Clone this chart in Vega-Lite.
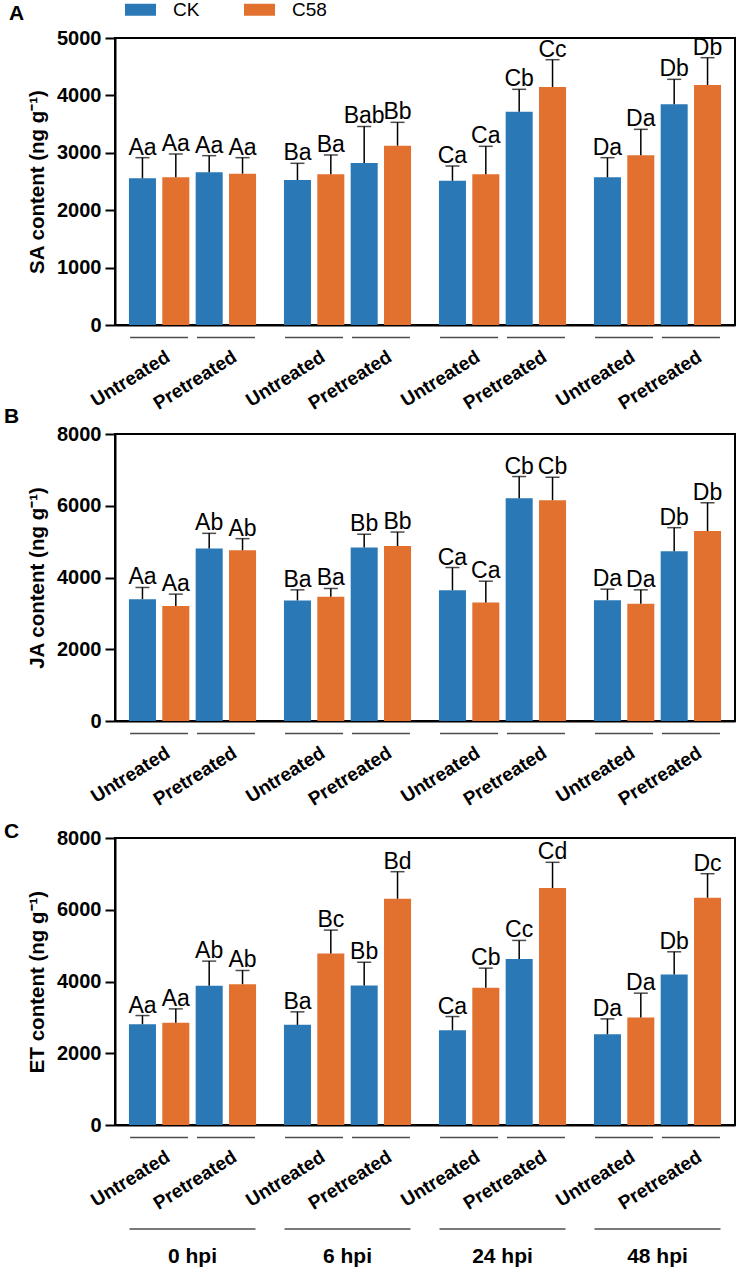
{
  "$schema": "https://vega.github.io/schema/vega-lite/v6.json",
  "padding": {"left": 3, "top": -6, "right": 5, "bottom": 0},
  "datasets": {
    "d": [
      {"h":"SA","time":"0 hpi","trt":"Untreated","strain":"CK","key":"U-CK","mean":2556,"upper":2915,"label":"Aa"},
      {"h":"SA","time":"0 hpi","trt":"Untreated","strain":"C58","key":"U-C58","mean":2573,"upper":2979,"label":"Aa"},
      {"h":"SA","time":"0 hpi","trt":"Pretreated","strain":"CK","key":"P-CK","mean":2660,"upper":2950,"label":"Aa"},
      {"h":"SA","time":"0 hpi","trt":"Pretreated","strain":"C58","key":"P-C58","mean":2636,"upper":2915,"label":"Aa"},
      {"h":"SA","time":"6 hpi","trt":"Untreated","strain":"CK","key":"U-CK","mean":2526,"upper":2817,"label":"Ba"},
      {"h":"SA","time":"6 hpi","trt":"Untreated","strain":"C58","key":"U-C58","mean":2625,"upper":2962,"label":"Ba"},
      {"h":"SA","time":"6 hpi","trt":"Pretreated","strain":"CK","key":"P-CK","mean":2822,"upper":3460,"label":"Bab"},
      {"h":"SA","time":"6 hpi","trt":"Pretreated","strain":"C58","key":"P-C58","mean":3124,"upper":3531,"label":"Bb"},
      {"h":"SA","time":"24 hpi","trt":"Untreated","strain":"CK","key":"U-CK","mean":2514,"upper":2770,"label":"Ca"},
      {"h":"SA","time":"24 hpi","trt":"Untreated","strain":"C58","key":"U-C58","mean":2625,"upper":3113,"label":"Ca"},
      {"h":"SA","time":"24 hpi","trt":"Pretreated","strain":"CK","key":"P-CK","mean":3716,"upper":4106,"label":"Cb"},
      {"h":"SA","time":"24 hpi","trt":"Pretreated","strain":"C58","key":"P-C58","mean":4146,"upper":4622,"label":"Cc"},
      {"h":"SA","time":"48 hpi","trt":"Untreated","strain":"CK","key":"U-CK","mean":2573,"upper":2915,"label":"Da"},
      {"h":"SA","time":"48 hpi","trt":"Untreated","strain":"C58","key":"U-C58","mean":2956,"upper":3409,"label":"Da"},
      {"h":"SA","time":"48 hpi","trt":"Pretreated","strain":"CK","key":"P-CK","mean":3845,"upper":4280,"label":"Db"},
      {"h":"SA","time":"48 hpi","trt":"Pretreated","strain":"C58","key":"P-C58","mean":4181,"upper":4657,"label":"Db"},

      {"h":"JA","time":"0 hpi","trt":"Untreated","strain":"CK","key":"U-CK","mean":3397,"upper":3722,"label":"Aa"},
      {"h":"JA","time":"0 hpi","trt":"Untreated","strain":"C58","key":"U-C58","mean":3203,"upper":3536,"label":"Aa"},
      {"h":"JA","time":"0 hpi","trt":"Pretreated","strain":"CK","key":"P-CK","mean":4806,"upper":5231,"label":"Ab"},
      {"h":"JA","time":"0 hpi","trt":"Pretreated","strain":"C58","key":"P-C58","mean":4758,"upper":5083,"label":"Ab"},
      {"h":"JA","time":"6 hpi","trt":"Untreated","strain":"CK","key":"U-CK","mean":3361,"upper":3656,"label":"Ba"},
      {"h":"JA","time":"6 hpi","trt":"Untreated","strain":"C58","key":"U-C58","mean":3461,"upper":3694,"label":"Ba"},
      {"h":"JA","time":"6 hpi","trt":"Pretreated","strain":"CK","key":"P-CK","mean":4833,"upper":5203,"label":"Bb"},
      {"h":"JA","time":"6 hpi","trt":"Pretreated","strain":"C58","key":"P-C58","mean":4878,"upper":5267,"label":"Bb"},
      {"h":"JA","time":"24 hpi","trt":"Untreated","strain":"CK","key":"U-CK","mean":3647,"upper":4278,"label":"Ca"},
      {"h":"JA","time":"24 hpi","trt":"Untreated","strain":"C58","key":"U-C58","mean":3306,"upper":3897,"label":"Ca"},
      {"h":"JA","time":"24 hpi","trt":"Pretreated","strain":"CK","key":"P-CK","mean":6211,"upper":6814,"label":"Cb"},
      {"h":"JA","time":"24 hpi","trt":"Pretreated","strain":"C58","key":"P-C58","mean":6156,"upper":6794,"label":"Cb"},
      {"h":"JA","time":"48 hpi","trt":"Untreated","strain":"CK","key":"U-CK","mean":3369,"upper":3675,"label":"Da"},
      {"h":"JA","time":"48 hpi","trt":"Untreated","strain":"C58","key":"U-C58","mean":3267,"upper":3656,"label":"Da"},
      {"h":"JA","time":"48 hpi","trt":"Pretreated","strain":"CK","key":"P-CK","mean":4731,"upper":5389,"label":"Db"},
      {"h":"JA","time":"48 hpi","trt":"Pretreated","strain":"C58","key":"P-C58","mean":5294,"upper":6083,"label":"Db"},

      {"h":"ET","time":"0 hpi","trt":"Untreated","strain":"CK","key":"U-CK","mean":2810,"upper":3051,"label":"Aa"},
      {"h":"ET","time":"0 hpi","trt":"Untreated","strain":"C58","key":"U-C58","mean":2847,"upper":3237,"label":"Aa"},
      {"h":"ET","time":"0 hpi","trt":"Pretreated","strain":"CK","key":"P-CK","mean":3879,"upper":4568,"label":"Ab"},
      {"h":"ET","time":"0 hpi","trt":"Pretreated","strain":"C58","key":"P-C58","mean":3926,"upper":4307,"label":"Ab"},
      {"h":"ET","time":"6 hpi","trt":"Untreated","strain":"CK","key":"U-CK","mean":2791,"upper":3154,"label":"Ba"},
      {"h":"ET","time":"6 hpi","trt":"Untreated","strain":"C58","key":"U-C58","mean":4782,"upper":5433,"label":"Bc"},
      {"h":"ET","time":"6 hpi","trt":"Pretreated","strain":"CK","key":"P-CK","mean":3889,"upper":4540,"label":"Bb"},
      {"h":"ET","time":"6 hpi","trt":"Pretreated","strain":"C58","key":"P-C58","mean":6307,"upper":7061,"label":"Bd"},
      {"h":"ET","time":"24 hpi","trt":"Untreated","strain":"CK","key":"U-CK","mean":2642,"upper":3023,"label":"Ca"},
      {"h":"ET","time":"24 hpi","trt":"Untreated","strain":"C58","key":"U-C58","mean":3824,"upper":4372,"label":"Cb"},
      {"h":"ET","time":"24 hpi","trt":"Pretreated","strain":"CK","key":"P-CK","mean":4624,"upper":5145,"label":"Cc"},
      {"h":"ET","time":"24 hpi","trt":"Pretreated","strain":"C58","key":"P-C58","mean":6605,"upper":7322,"label":"Cd"},
      {"h":"ET","time":"48 hpi","trt":"Untreated","strain":"CK","key":"U-CK","mean":2530,"upper":2958,"label":"Da"},
      {"h":"ET","time":"48 hpi","trt":"Untreated","strain":"C58","key":"U-C58","mean":2996,"upper":3675,"label":"Da"},
      {"h":"ET","time":"48 hpi","trt":"Pretreated","strain":"CK","key":"P-CK","mean":4196,"upper":4828,"label":"Db"},
      {"h":"ET","time":"48 hpi","trt":"Pretreated","strain":"C58","key":"P-C58","mean":6335,"upper":7005,"label":"Dc"}
    ]
  },
  "bounds": "flush",
  "spacing": 109,
  "vconcat": [
    {
      "width": 620, "height": 287,
      "title": {"text": "A", "dx": -106, "dy": 0},
      "data": {"name": "d"},
      "transform": [{"filter": "datum.h === 'SA'"}],
      "resolve": {"scale": {"xOffset": "independent"}},
      "encoding": {
        "x": {"field": "time", "type": "nominal", "sort": null,
              "scale": {"domain": ["0 hpi","6 hpi","24 hpi","48 hpi"], "paddingInner": 0.18, "paddingOuter": 0.09},
              "axis": {"labels": false, "ticks": false, "title": null}}
      },
      "layer": [
        {"mark": {"type": "bar"},
         "encoding": {
           "xOffset": {"field": "key", "type": "nominal", "scale": {"type": "band", "domain": ["U-CK","U-C58","P-CK","P-C58"], "paddingInner": 0.19, "paddingOuter": 0}},
           "y": {"field": "mean", "type": "quantitative", "scale": {"domain": [0, 5000], "nice": false},
                 "axis": {"title": "SA content (ng g⁻¹)", "values": [0,1000,2000,3000,4000,5000], "format": "d"}},
           "color": {"field": "strain", "type": "nominal", "scale": {"domain": ["CK","C58"], "range": ["#2A78B5","#E2702E"]},
                     "legend": {"orient": "none", "legendX": 10, "legendY": -44, "direction": "horizontal", "title": null,
                                "symbolType": "M-1,-0.387H1V0.387H-1Z", "symbolSize": 961, "symbolStrokeWidth": 0,
                                "labelFontSize": 19, "labelOffset": 17, "columnPadding": 44, "labelColor": "black", "symbolOpacity": 1}}
         }},
        {"mark": {"type": "rule", "color": "black", "strokeWidth": 1.5},
         "encoding": {
           "xOffset": {"field": "key", "type": "nominal", "scale": {"type": "band", "domain": ["U-CK","U-C58","P-CK","P-C58"], "paddingInner": 0.19, "paddingOuter": 0}},
           "y": {"field": "mean", "type": "quantitative"}, "y2": {"field": "upper"}
         }},
        {"mark": {"type": "tick", "orient": "horizontal", "color": "black", "size": 14, "thickness": 1.5},
         "encoding": {
           "xOffset": {"field": "key", "type": "nominal", "scale": {"type": "band", "domain": ["U-CK","U-C58","P-CK","P-C58"], "paddingInner": 0.19, "paddingOuter": 0}},
           "y": {"field": "upper", "type": "quantitative"}
         }},
        {"mark": {"type": "text", "baseline": "alphabetic", "dy": -3, "fontSize": 23, "color": "black"},
         "encoding": {
           "xOffset": {"field": "key", "type": "nominal", "scale": {"type": "band", "domain": ["U-CK","U-C58","P-CK","P-C58"], "paddingInner": 0.19, "paddingOuter": 0}},
           "y": {"field": "upper", "type": "quantitative"},
           "text": {"field": "label"}
         }},
        {"transform": [{"filter": "datum.strain === 'CK'"}],
         "mark": {"type": "tick", "orient": "horizontal", "color": "black", "size": 58, "thickness": 1.5},
         "encoding": {
           "xOffset": {"field": "trt", "type": "nominal", "scale": {"type": "band", "domain": ["Untreated","Pretreated"], "paddingInner": 0.1, "paddingOuter": 0}},
           "y": {"datum": -218}
         }},
        {"transform": [{"filter": "datum.strain === 'CK'"}],
         "mark": {"type": "text", "angle": 328, "align": "right", "baseline": "top", "dx": 5, "fontSize": 19, "fontWeight": "bold", "color": "black"},
         "encoding": {
           "xOffset": {"field": "trt", "type": "nominal", "scale": {"type": "band", "domain": ["Untreated","Pretreated"], "paddingInner": 0.1, "paddingOuter": 0}},
           "y": {"datum": -440},
           "text": {"field": "trt"}
         }}
      ]
    },
    {
      "bounds": "flush",
      "spacing": 117,
      "vconcat": [
        {
          "width": 620, "height": 287,
          "title": {"text": "B", "dx": -111, "dy": 7},
          "data": {"name": "d"},
          "transform": [{"filter": "datum.h === 'JA'"}],
          "resolve": {"scale": {"xOffset": "independent"}},
          "encoding": {
            "x": {"field": "time", "type": "nominal", "sort": null,
                  "scale": {"domain": ["0 hpi","6 hpi","24 hpi","48 hpi"], "paddingInner": 0.18, "paddingOuter": 0.09},
                  "axis": {"labels": false, "ticks": false, "title": null}}
          },
          "layer": [
            {"mark": {"type": "bar"},
             "encoding": {
               "xOffset": {"field": "key", "type": "nominal", "scale": {"type": "band", "domain": ["U-CK","U-C58","P-CK","P-C58"], "paddingInner": 0.19, "paddingOuter": 0}},
               "y": {"field": "mean", "type": "quantitative", "scale": {"domain": [0, 8000], "nice": false},
                     "axis": {"title": "JA content (ng g⁻¹)", "values": [0,2000,4000,6000,8000], "format": "d"}},
               "color": {"field": "strain", "type": "nominal", "scale": {"domain": ["CK","C58"], "range": ["#2A78B5","#E2702E"]},
                         "legend": {"orient": "none", "legendX": 10, "legendY": -44, "direction": "horizontal", "title": null,
                                    "symbolType": "M-1,-0.387H1V0.387H-1Z", "symbolSize": 961, "symbolStrokeWidth": 0,
                                    "labelFontSize": 19, "labelOffset": 17, "columnPadding": 44, "labelColor": "black", "symbolOpacity": 1}}
             }},
            {"mark": {"type": "rule", "color": "black", "strokeWidth": 1.5},
             "encoding": {
               "xOffset": {"field": "key", "type": "nominal", "scale": {"type": "band", "domain": ["U-CK","U-C58","P-CK","P-C58"], "paddingInner": 0.19, "paddingOuter": 0}},
               "y": {"field": "mean", "type": "quantitative"}, "y2": {"field": "upper"}
             }},
            {"mark": {"type": "tick", "orient": "horizontal", "color": "black", "size": 14, "thickness": 1.5},
             "encoding": {
               "xOffset": {"field": "key", "type": "nominal", "scale": {"type": "band", "domain": ["U-CK","U-C58","P-CK","P-C58"], "paddingInner": 0.19, "paddingOuter": 0}},
               "y": {"field": "upper", "type": "quantitative"}
             }},
            {"mark": {"type": "text", "baseline": "alphabetic", "dy": -3, "fontSize": 23, "color": "black"},
             "encoding": {
               "xOffset": {"field": "key", "type": "nominal", "scale": {"type": "band", "domain": ["U-CK","U-C58","P-CK","P-C58"], "paddingInner": 0.19, "paddingOuter": 0}},
               "y": {"field": "upper", "type": "quantitative"},
               "text": {"field": "label"}
             }},
            {"transform": [{"filter": "datum.strain === 'CK'"}],
             "mark": {"type": "tick", "orient": "horizontal", "color": "black", "size": 58, "thickness": 1.5},
             "encoding": {
               "xOffset": {"field": "trt", "type": "nominal", "scale": {"type": "band", "domain": ["Untreated","Pretreated"], "paddingInner": 0.1, "paddingOuter": 0}},
               "y": {"datum": -348}
             }},
            {"transform": [{"filter": "datum.strain === 'CK'"}],
             "mark": {"type": "text", "angle": 328, "align": "right", "baseline": "top", "dx": 5, "fontSize": 19, "fontWeight": "bold", "color": "black"},
             "encoding": {
               "xOffset": {"field": "trt", "type": "nominal", "scale": {"type": "band", "domain": ["Untreated","Pretreated"], "paddingInner": 0.1, "paddingOuter": 0}},
               "y": {"datum": -705},
               "text": {"field": "trt"}
             }}
          ]
        },
        {
          "width": 620, "height": 287,
          "title": {"text": "C", "dx": -111, "dy": 18},
          "data": {"name": "d"},
          "transform": [{"filter": "datum.h === 'ET'"}],
          "resolve": {"scale": {"xOffset": "independent"}},
          "encoding": {
            "x": {"field": "time", "type": "nominal", "sort": null,
                  "scale": {"domain": ["0 hpi","6 hpi","24 hpi","48 hpi"], "paddingInner": 0.18, "paddingOuter": 0.09},
                  "axis": {"labels": true, "ticks": false, "tickSize": 0, "title": null, "labelAngle": 0, "labelFontSize": 21,
                           "labelFontWeight": "bold", "labelPadding": 120, "labelBaseline": "top", "labelColor": "black"}}
          },
          "layer": [
            {"mark": {"type": "bar"},
             "encoding": {
               "xOffset": {"field": "key", "type": "nominal", "scale": {"type": "band", "domain": ["U-CK","U-C58","P-CK","P-C58"], "paddingInner": 0.19, "paddingOuter": 0}},
               "y": {"field": "mean", "type": "quantitative", "scale": {"domain": [0, 8000], "nice": false},
                     "axis": {"title": "ET content (ng g⁻¹)", "values": [0,2000,4000,6000,8000], "format": "d"}},
               "color": {"field": "strain", "type": "nominal", "scale": {"domain": ["CK","C58"], "range": ["#2A78B5","#E2702E"]},
                         "legend": {"orient": "none", "legendX": 10, "legendY": -44, "direction": "horizontal", "title": null,
                                    "symbolType": "M-1,-0.387H1V0.387H-1Z", "symbolSize": 961, "symbolStrokeWidth": 0,
                                    "labelFontSize": 19, "labelOffset": 17, "columnPadding": 44, "labelColor": "black", "symbolOpacity": 1}}
             }},
            {"mark": {"type": "rule", "color": "black", "strokeWidth": 1.5},
             "encoding": {
               "xOffset": {"field": "key", "type": "nominal", "scale": {"type": "band", "domain": ["U-CK","U-C58","P-CK","P-C58"], "paddingInner": 0.19, "paddingOuter": 0}},
               "y": {"field": "mean", "type": "quantitative"}, "y2": {"field": "upper"}
             }},
            {"mark": {"type": "tick", "orient": "horizontal", "color": "black", "size": 14, "thickness": 1.5},
             "encoding": {
               "xOffset": {"field": "key", "type": "nominal", "scale": {"type": "band", "domain": ["U-CK","U-C58","P-CK","P-C58"], "paddingInner": 0.19, "paddingOuter": 0}},
               "y": {"field": "upper", "type": "quantitative"}
             }},
            {"mark": {"type": "text", "baseline": "alphabetic", "dy": -3, "fontSize": 23, "color": "black"},
             "encoding": {
               "xOffset": {"field": "key", "type": "nominal", "scale": {"type": "band", "domain": ["U-CK","U-C58","P-CK","P-C58"], "paddingInner": 0.19, "paddingOuter": 0}},
               "y": {"field": "upper", "type": "quantitative"},
               "text": {"field": "label"}
             }},
            {"transform": [{"filter": "datum.strain === 'CK'"}],
             "mark": {"type": "tick", "orient": "horizontal", "color": "black", "size": 58, "thickness": 1.5},
             "encoding": {
               "xOffset": {"field": "trt", "type": "nominal", "scale": {"type": "band", "domain": ["Untreated","Pretreated"], "paddingInner": 0.1, "paddingOuter": 0}},
               "y": {"datum": -348}
             }},
            {"transform": [{"filter": "datum.strain === 'CK'"}],
             "mark": {"type": "text", "angle": 328, "align": "right", "baseline": "top", "dx": 5, "fontSize": 19, "fontWeight": "bold", "color": "black"},
             "encoding": {
               "xOffset": {"field": "trt", "type": "nominal", "scale": {"type": "band", "domain": ["Untreated","Pretreated"], "paddingInner": 0.1, "paddingOuter": 0}},
               "y": {"datum": -705},
               "text": {"field": "trt"}
             }},
            {"transform": [{"filter": "datum.key === 'U-CK'"}],
             "mark": {"type": "tick", "orient": "horizontal", "color": "black", "size": 126, "thickness": 1.5},
             "encoding": {
               "y": {"datum": -2899}
             }}
          ]
        }
      ]
    }
  ],
  "config": {
    "font": "Liberation Sans",
    "view": {"stroke": "black", "strokeWidth": 2},
    "axis": {"domainColor": "black", "domainWidth": 2, "tickColor": "black", "tickWidth": 2, "labelColor": "black", "titleColor": "black", "grid": false},
    "axisY": {"labelFontSize": 20, "labelFontWeight": "bold", "titleFontSize": 20.5, "titleFontWeight": "bold", "tickSize": 10, "labelPadding": 4, "titlePadding": 9},
    "title": {"fontSize": 21, "fontWeight": "bold", "anchor": "start", "frame": "group", "color": "black", "baseline": "alphabetic", "offset": 0}
  }
}
